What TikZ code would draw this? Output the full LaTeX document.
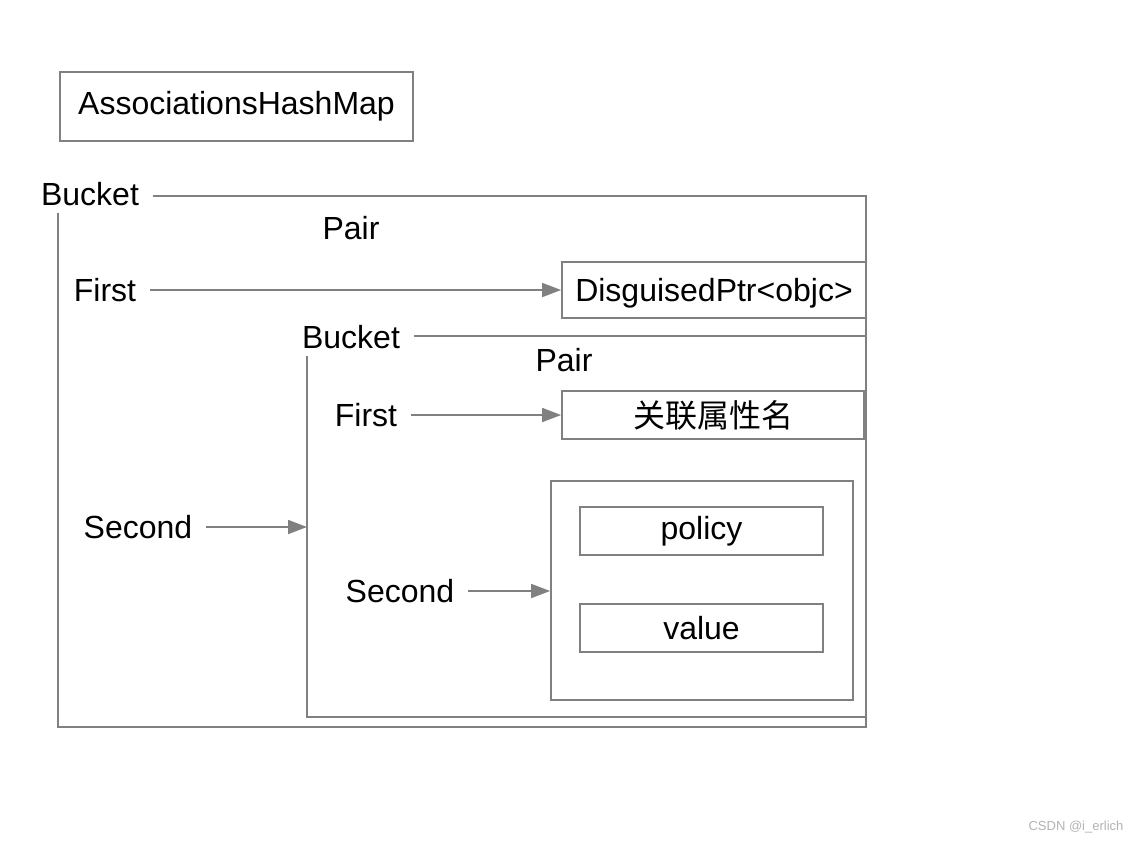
\documentclass[tikz,border=0pt]{standalone}
\usepackage{fontspec}
\setmainfont{Liberation Sans}
\newfontfamily\cjk{Noto Sans CJK SC}
\usetikzlibrary{arrows.meta}

\begin{document}
\begin{tikzpicture}[x=0.5pt,y=-0.5pt,
    font=\fontsize{16}{19}\selectfont,
    box/.style={draw=gray, line width=0.9pt, inner sep=0pt},
    frame/.style={draw=gray, line width=0.9pt},
    link/.style={draw=gray, line width=0.9pt, shorten <=3.5pt, -{Triangle[length=9.5pt,width=7pt]}}]
    \useasboundingbox (0,0) rectangle (1138,842);

    % Tabela
    \node[box, minimum width=176.5pt, minimum height=34.5pt] (map) at (236.5,106.5) {AssociationsHashMap};

    % Primeiro bucket
    \node (bkt1) at (90,194) {Bucket};
    \node (pair1) at (351,228) {Pair};
    \node (first1) at (105,290) {First};
    \node[box, minimum width=152pt, minimum height=28pt, text depth=0pt] (ptr) at (714,290) {DisguisedPtr<objc>};
    \node (second1) at (138,527) {Second};
    \draw[frame] ([shift={(7,2)}]bkt1.east) -| (866,727) -| (58,213);
    \draw[link] (first1.east) -- (first1.east -| ptr.west);

    % Segundo bucket
    \node (bkt2) at (351,337) {Bucket};
    \node (pair2) at (564,360) {Pair};
    \node (first2) at (366,415) {First};
    \node[box, minimum width=151pt, minimum height=24pt] (name) at (713,415) {\cjk 关联属性名};
    \node (second2) at (400,591) {Second};
    \draw[frame] ([shift={(7,-1)}]bkt2.east) -| (866,717) -| (307,356);
    \coordinate (in2) at (307,527);
    \draw[link] (second1.east) -- (second1.east -| in2);
    \draw[link] (first2.east) -- (first2.east -| name.west);

    % Valor
    \node[box, minimum width=151pt, minimum height=109.5pt] (val) at (702,590.5) {};
    \node[box, minimum width=121.5pt, minimum height=24pt] (policy) at (701.5,531) {policy};
    \node[box, minimum width=121.5pt, minimum height=24pt] (value) at (701.5,628) {value};
    \draw[link] (second2.east) -- (second2.east -| val.west);

    \node[text=gray!60, font=\fontsize{6.5}{8}\selectfont] (mark) at (1076,827) {CSDN @i\_erlich};
\end{tikzpicture}
\end{document}
